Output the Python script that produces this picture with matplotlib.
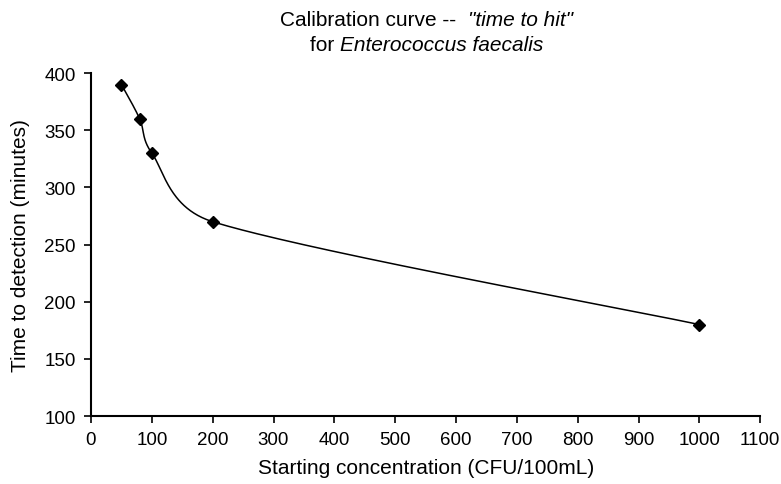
import numpy as np
import matplotlib.pyplot as plt

# calibration points
conc = [50, 80, 100, 200, 1000]
minutes = [390, 360, 330, 270, 180]
xticks = list(range(0, 1101, 100))
yticks = list(range(100, 401, 50))

plt.rcParams['font.family'] = ['Liberation Sans', 'DejaVu Sans']

fig = plt.figure(figsize=(7.81, 4.85), dpi=100)
ax = fig.add_axes([0.1165, 0.1402, 0.857, 0.707])
ax.set_xlim(0, 1100)
ax.set_ylim(100, 400)

# smoothed line like a spreadsheet chart (bezier through points, in screen scale)
sx = 670.0 / 1100
sy = 343.0 / 300
P = np.column_stack([np.array(conc) * sx, np.array(minutes) * sy])
n = len(P)
tang = [(P[min(i + 1, n - 1)] - P[max(i - 1, 0)]) / 6.0 for i in range(n)]
curve = []
t = np.linspace(0, 1, 80)
for i in range(n - 1):
  p0 = P[i]
  p3 = P[i + 1]
  L = np.hypot(*(p3 - p0))
  d0 = tang[i]
  d1 = tang[i + 1]
  d0 = d0 * min(1.0, 0.5 * L / np.hypot(*d0))
  d1 = d1 * min(1.0, 0.5 * L / np.hypot(*d1))
  c1 = p0 + d0
  c2 = p3 - d1
  seg = ((1 - t)**3)[:, None]*p0 + (3*(1 - t)**2*t)[:, None]*c1 + (3*(1 - t)*t**2)[:, None]*c2 + (t**3)[:, None]*p3
  curve.append(seg)
curve = np.vstack(curve)
ax.plot(curve[:, 0] / sx, curve[:, 1] / sy, color='black', lw=1.1)
ax.plot(conc, minutes, 'kD', markersize=6)

ax.set_xticks(xticks)
ax.set_yticks(yticks)
ax.tick_params(direction='out', length=5, width=1.2, labelsize=13.5, colors='black', pad=6)
for s in ['top', 'right']:
  ax.spines[s].set_visible(False)
for s in ['left', 'bottom']:
  ax.spines[s].set_linewidth(1.5)

ax.set_xlabel('Starting concentration (CFU/100mL)', fontsize=15, labelpad=7)
ax.set_ylabel('Time to detection (minutes)', fontsize=15, labelpad=10)

# title lines with italic parts, pieces placed side by side
def mixed_line(parts, cx, y):
  r = fig.canvas.get_renderer()
  texts = []
  for s, style in parts:
    texts.append(fig.text(0, y, s, style=style, fontsize=15, va='center'))
  widths = [tx.get_window_extent(r).width for tx in texts]
  x0 = cx * fig.bbox.width - sum(widths) / 2
  for tx, w in zip(texts, widths):
    tx.set_x(x0 / fig.bbox.width)
    x0 += w

mixed_line([('Calibration curve --  ', 'normal'), ('"time to hit"', 'italic')], 0.546, 0.958)
mixed_line([('for ', 'normal'), ('Enterococcus faecalis', 'italic')], 0.546, 0.906)

plt.savefig('out.png', dpi=100)
